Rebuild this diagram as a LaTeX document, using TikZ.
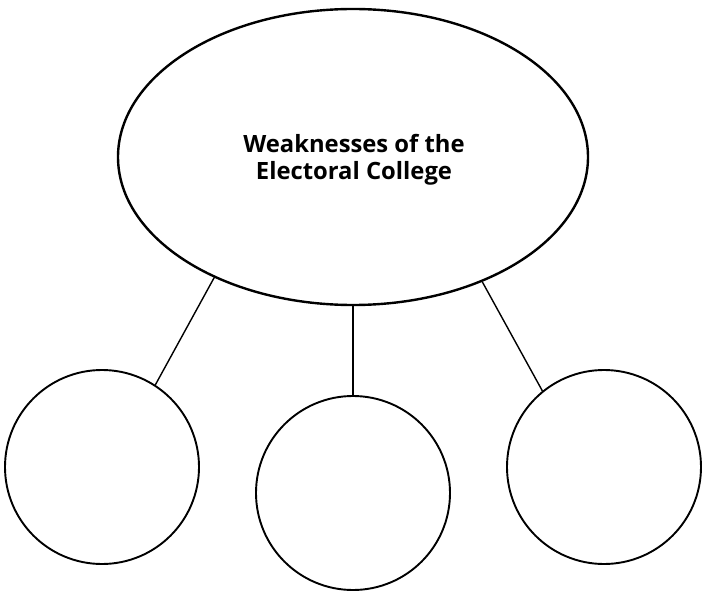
\documentclass[tikz,border=0pt]{standalone}
\usepackage{fontspec}
\setmainfont{Open Sans}
\usetikzlibrary{shapes.geometric}
\begin{document}
\begin{tikzpicture}[x=1pt,y=-1pt,
  hub/.style={ellipse,draw,line width=2.4pt,minimum width=470pt,minimum height=296pt,inner sep=0pt},
  leaf/.style={circle,draw,line width=1.9pt,minimum size=194pt,inner sep=0pt},
  link/.style={line width=1.4pt}]
\useasboundingbox (0,0) rectangle (702,596);
\node[hub] (top) at (353,157) {};
\node[font=\bfseries\fontsize{23.8}{27}\selectfont,align=center] (title) at (354,160)
  {Weaknesses of the\\Electoral College};
\node[leaf] (left) at (102,467) {};
\node[leaf] (mid) at (353,493) {};
\node[leaf] (right) at (604,467) {};
\draw[link] (top.221.9) -- (left.57);
\draw[link] (top.south) -- (mid.north);
\draw[link] (top.316.5) -- (right.129.7);
\end{tikzpicture}
\end{document}
